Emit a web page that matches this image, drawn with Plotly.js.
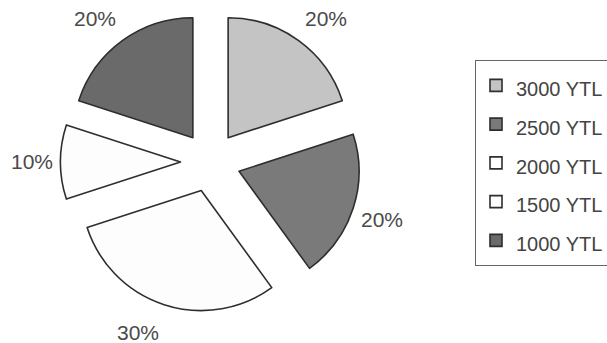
<!DOCTYPE html>
<html>
<head>
<meta charset="utf-8">
<script src="https://cdn.plot.ly/plotly-3.0.1.min.js"></script>
<style>html,body{margin:0;padding:0;background:#fff;overflow:hidden;}#chart{width:630px;height:343px;}</style>
</head>
<body>
<div id="chart"></div>
<script>
const categories = ["3000 YTL", "2500 YTL", "2000 YTL", "1500 YTL", "1000 YTL"];
const shares = [20, 20, 30, 10, 20];
const sliceColors = ["#c4c4c4", "#7a7a7a", "#fdfdfd", "#fdfdfd", "#6a6a6a"];
// label anchor positions (px) for the percentage labels, Excel-style placement
const labelPos = [[326, 18.5], [382, 219.5], [138, 332.5], [32, 161.5], [95, 18.5]];

const W = 630, H = 343;
const total = shares.reduce((a, b) => a + b, 0);
const legendLabels = categories.map(c => '<span style="font-size:20px">' + c + '</span>');

const trace = {
  type: "pie",
  labels: legendLabels,
  values: shares,
  sort: false,
  direction: "clockwise",
  rotation: 0,
  pull: 0.25,
  marker: { colors: sliceColors, line: { color: "#2e2e2e", width: 1.6 } },
  textinfo: "none",
  domain: { x: [60.5 / W, 360.5 / W], y: [(H - 312) / H, (H - 12) / H] },
  hoverinfo: "none"
};

const annotations = shares.map((v, i) => ({
  xref: "paper", yref: "paper",
  x: labelPos[i][0] / W, y: 1 - labelPos[i][1] / H,
  xanchor: "center", yanchor: "middle",
  text: Math.round(v / total * 100) + "%",
  showarrow: false,
  font: { family: "Liberation Sans, Arial, sans-serif", size: 21, color: "#4a4a4a" }
}));

const layout = {
  width: W,
  height: H,
  margin: { l: 0, r: 0, t: 0, b: 0 },
  paper_bgcolor: "#ffffff",
  showlegend: true,
  annotations: annotations,
  legend: {
    x: 475 / W, xanchor: "left",
    y: 1 - 60 / H, yanchor: "top",
    bordercolor: "#666666", borderwidth: 1,
    bgcolor: "#ffffff",
    font: { family: "Liberation Sans, Arial, sans-serif", size: 27.5, color: "#444444" },
    traceorder: "normal"
  }
};

Plotly.newPlot("chart", [trace], layout, { staticPlot: true });
</script>
</body>
</html>
